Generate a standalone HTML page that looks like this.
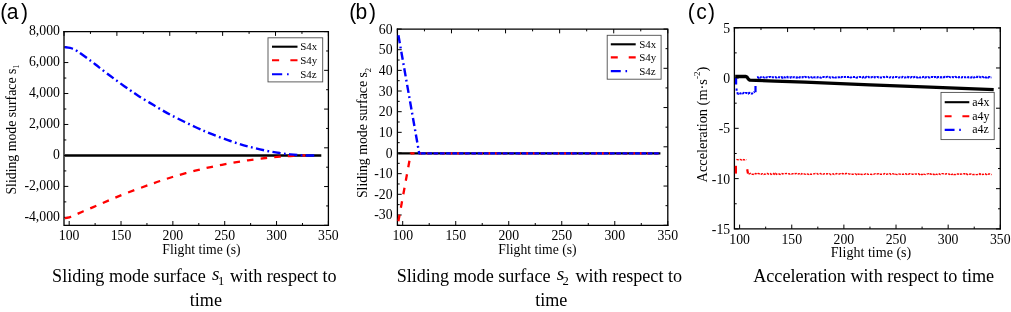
<!DOCTYPE html>
<html lang="en">
<head>
<meta charset="utf-8">
<title>Sliding mode surfaces and acceleration</title>
<style>html,body{margin:0;padding:0;background:#fff}svg{display:block}</style>
</head>
<body>
<svg width="1011" height="312" viewBox="0 0 1011 312" style="will-change:transform" font-family='"Liberation Serif", "Times New Roman", Times, serif' fill="#000">
<rect width="1011" height="312" fill="#fff"/>
<path d="M69.18 225.3 V221 M121.03 225.3 V221 M172.87 225.3 V221 M224.71 225.3 V221 M276.56 225.3 V221 M328.4 225.3 V221 M95.11 225.3 V223 M146.95 225.3 V223 M198.79 225.3 V223 M250.64 225.3 V223 M302.48 225.3 V223 M64 31.6 H68.3 M64 62.56 H68.3 M64 93.52 H68.3 M64 124.48 H68.3 M64 155.44 H68.3 M64 186.4 H68.3 M64 217.36 H68.3 M64 47.08 H66.3 M64 78.04 H66.3 M64 109 H66.3 M64 139.96 H66.3 M64 170.92 H66.3 M64 201.88 H66.3" stroke="#000" stroke-width="1" fill="none"/>
<path d="M64 31.6 V35.9 M328.4 31.6 H324.1 M90.44 31.6 V33.9 M328.4 50.97 H326.1 M116.88 31.6 V35.9 M328.4 70.34 H324.1 M143.32 31.6 V33.9 M328.4 89.71 H326.1 M169.76 31.6 V35.9 M328.4 109.08 H324.1 M196.2 31.6 V33.9 M328.4 128.45 H326.1 M222.64 31.6 V35.9 M328.4 147.82 H324.1 M249.08 31.6 V33.9 M328.4 167.19 H326.1 M275.52 31.6 V35.9 M328.4 186.56 H324.1 M301.96 31.6 V33.9 M328.4 205.93 H326.1 M328.4 31.6 V35.9 M328.4 225.3 H324.1" stroke="#000" stroke-width="1" fill="none"/>
<path d="M64 31.6 H328.4 V225.3" stroke="#000" stroke-width="1.3" fill="none" stroke-linecap="square"/>
<path d="M64 31.6 V225.3 H328.4" stroke="#000" stroke-width="1.3" fill="none" stroke-linecap="square"/>
<text transform="translate(69.18 240) scale(0.905 1)" font-size="15.2" text-anchor="middle">100</text>
<text transform="translate(121.03 240) scale(0.905 1)" font-size="15.2" text-anchor="middle">150</text>
<text transform="translate(172.87 240) scale(0.905 1)" font-size="15.2" text-anchor="middle">200</text>
<text transform="translate(224.71 240) scale(0.905 1)" font-size="15.2" text-anchor="middle">250</text>
<text transform="translate(276.56 240) scale(0.905 1)" font-size="15.2" text-anchor="middle">300</text>
<text transform="translate(328.4 240) scale(0.905 1)" font-size="15.2" text-anchor="middle">350</text>
<text transform="translate(59.9 35.4) scale(0.905 1)" font-size="15.2" text-anchor="end">8,000</text>
<text transform="translate(59.9 66.36) scale(0.905 1)" font-size="15.2" text-anchor="end">6,000</text>
<text transform="translate(59.9 97.32) scale(0.905 1)" font-size="15.2" text-anchor="end">4,000</text>
<text transform="translate(59.9 128.28) scale(0.905 1)" font-size="15.2" text-anchor="end">2,000</text>
<text transform="translate(59.9 159.24) scale(0.905 1)" font-size="15.2" text-anchor="end">0</text>
<text transform="translate(59.9 190.2) scale(0.905 1)" font-size="15.2" text-anchor="end">-2,000</text>
<text transform="translate(59.9 221.16) scale(0.905 1)" font-size="15.2" text-anchor="end">-4,000</text>
<path d="M64.8 155.5 H321.3" stroke="#000" stroke-width="2.4" fill="none"/>
<path d="M64.8 218.2 C65.33 218.12 66.97 217.95 68 217.7 C69.03 217.45 69.67 217.22 71 216.7 C72.33 216.18 73.93 215.52 76 214.6 C78.07 213.68 80.1 212.63 83.4 211.2 C86.7 209.77 91.43 207.85 95.8 206 C100.17 204.15 104.32 202.32 109.6 200.1 C114.88 197.88 120.62 195.35 127.5 192.7 C134.38 190.05 145.48 186.15 150.9 184.2 C156.32 182.25 155.87 182.37 160 181 C164.13 179.63 169.83 177.72 175.7 176 C181.57 174.28 189.15 172.23 195.2 170.7 C201.25 169.17 206.13 168.05 212 166.8 C217.87 165.55 224.4 164.28 230.4 163.2 C236.4 162.12 242.13 161.17 248 160.3 C253.87 159.43 260.27 158.6 265.6 158 C270.93 157.4 275.93 157.03 280 156.7 C284.07 156.37 286.67 156.2 290 156 C293.33 155.8 297.42 155.58 300 155.5 C302.58 155.42 304.58 155.5 305.5 155.5" stroke="#f00" stroke-width="2.3" fill="none" stroke-dasharray="6.6 7.1"/>
<path d="M64.8 47.1 C65.67 47.23 68.47 47.55 70 47.9 C71.53 48.25 72.83 48.7 74 49.2 C75.17 49.7 75.88 50.18 77 50.9 C78.12 51.62 78.38 51.82 80.7 53.5 C83.02 55.18 87.83 58.68 90.9 61 C93.97 63.32 95.9 64.93 99.1 67.4 C102.3 69.87 106.75 73.28 110.1 75.8 C113.45 78.32 115.85 80.08 119.2 82.5 C122.55 84.92 126.98 88.07 130.2 90.3 C133.42 92.53 135.28 93.85 138.5 95.9 C141.72 97.95 145.92 100.43 149.5 102.6 C153.08 104.77 156.25 106.73 160 108.9 C163.75 111.07 166.13 112.58 172 115.6 C177.87 118.62 188.53 123.9 195.2 127 C201.87 130.1 206.13 131.87 212 134.2 C217.87 136.53 224.4 138.97 230.4 141 C236.4 143.03 242.13 144.8 248 146.4 C253.87 148 260.27 149.48 265.6 150.6 C270.93 151.72 275.88 152.47 280 153.1 C284.12 153.73 286.83 154.03 290.3 154.4 C293.77 154.77 297.85 155.12 300.8 155.3 C303.75 155.48 305.6 155.47 308 155.5 C310.4 155.53 314 155.5 315.2 155.5" stroke="#00f" stroke-width="2.4" fill="none" stroke-dasharray="8.2 3.4 1.8 3.4"/>
<rect x="268" y="37.8" width="54.7" height="44.1" fill="#fff" stroke="#4d4d4d" stroke-width="0.9"/>
<path d="M272 46.7 H297.5" stroke="#000" stroke-width="2.1"/>
<path d="M272 60.3 h7.14 M290.36 60.3 h7.14" stroke="#f00" stroke-width="2.1"/>
<path d="M272 74.2 h10.2 M287.05 74.2 h1.6" stroke="#00f" stroke-width="2.1"/>
<text transform="translate(300.2 50) scale(0.960 1)" font-size="11.4">S4x</text>
<text transform="translate(300.2 64) scale(0.960 1)" font-size="11.4">S4y</text>
<text transform="translate(300.2 77.7) scale(0.960 1)" font-size="11.4">S4z</text>
<text transform="translate(201.5 253.8) scale(0.925 1)" font-size="14.8" text-anchor="middle">Flight time (s)</text>
<text transform="translate(15.7 129.5) rotate(-90) scale(0.945 1)" font-size="14.6" text-anchor="middle">Sliding mode surface s<tspan font-size="9" dy="3.2">1</tspan></text>
<text transform="translate(0.2 18.9) scale(0.94 1)" font-size="22.4" font-family='"Liberation Sans", Arial, Helvetica, sans-serif'>(<tspan x="7.02">a</tspan><tspan x="22.02">)</tspan></text>
<path d="M402.7 225.3 V221 M455.72 225.3 V221 M508.74 225.3 V221 M561.76 225.3 V221 M614.78 225.3 V221 M667.8 225.3 V221 M429.21 225.3 V223 M482.23 225.3 V223 M535.25 225.3 V223 M588.27 225.3 V223 M641.29 225.3 V223 M397.4 29.05 H401.7 M397.4 49.71 H401.7 M397.4 70.37 H401.7 M397.4 91.02 H401.7 M397.4 111.68 H401.7 M397.4 132.34 H401.7 M397.4 153 H401.7 M397.4 173.66 H401.7 M397.4 194.31 H401.7 M397.4 214.97 H401.7 M397.4 39.38 H399.7 M397.4 60.04 H399.7 M397.4 80.69 H399.7 M397.4 101.35 H399.7 M397.4 122.01 H399.7 M397.4 142.67 H399.7 M397.4 163.33 H399.7 M397.4 183.98 H399.7 M397.4 204.64 H399.7 M397.4 225.3 H399.7" stroke="#000" stroke-width="1" fill="none"/>
<path d="M397.4 29.05 V33.35 M667.8 29.05 H663.5 M424.44 29.05 V31.35 M667.8 48.67 H665.5 M451.48 29.05 V33.35 M667.8 68.3 H663.5 M478.52 29.05 V31.35 M667.8 87.92 H665.5 M505.56 29.05 V33.35 M667.8 107.55 H663.5 M532.6 29.05 V31.35 M667.8 127.17 H665.5 M559.64 29.05 V33.35 M667.8 146.8 H663.5 M586.68 29.05 V31.35 M667.8 166.43 H665.5 M613.72 29.05 V33.35 M667.8 186.05 H663.5 M640.76 29.05 V31.35 M667.8 205.68 H665.5 M667.8 29.05 V33.35 M667.8 225.3 H663.5" stroke="#000" stroke-width="1" fill="none"/>
<path d="M397.4 29.05 H667.8 V225.3" stroke="#000" stroke-width="1.3" fill="none" stroke-linecap="square"/>
<path d="M397.4 29.05 V225.3 H667.8" stroke="#000" stroke-width="1.3" fill="none" stroke-linecap="square"/>
<text transform="translate(402.7 240) scale(0.905 1)" font-size="15.2" text-anchor="middle">100</text>
<text transform="translate(455.72 240) scale(0.905 1)" font-size="15.2" text-anchor="middle">150</text>
<text transform="translate(508.74 240) scale(0.905 1)" font-size="15.2" text-anchor="middle">200</text>
<text transform="translate(561.76 240) scale(0.905 1)" font-size="15.2" text-anchor="middle">250</text>
<text transform="translate(614.78 240) scale(0.905 1)" font-size="15.2" text-anchor="middle">300</text>
<text transform="translate(667.8 240) scale(0.905 1)" font-size="15.2" text-anchor="middle">350</text>
<text transform="translate(392.6 33.55) scale(0.905 1)" font-size="15.2" text-anchor="end">60</text>
<text transform="translate(392.6 54.21) scale(0.905 1)" font-size="15.2" text-anchor="end">50</text>
<text transform="translate(392.6 74.87) scale(0.905 1)" font-size="15.2" text-anchor="end">40</text>
<text transform="translate(392.6 95.52) scale(0.905 1)" font-size="15.2" text-anchor="end">30</text>
<text transform="translate(392.6 116.18) scale(0.905 1)" font-size="15.2" text-anchor="end">20</text>
<text transform="translate(392.6 136.84) scale(0.905 1)" font-size="15.2" text-anchor="end">10</text>
<text transform="translate(392.6 157.5) scale(0.905 1)" font-size="15.2" text-anchor="end">0</text>
<text transform="translate(392.6 178.16) scale(0.905 1)" font-size="15.2" text-anchor="end">-10</text>
<text transform="translate(392.6 198.81) scale(0.905 1)" font-size="15.2" text-anchor="end">-20</text>
<text transform="translate(392.6 219.47) scale(0.905 1)" font-size="15.2" text-anchor="end">-30</text>
<path d="M398.2 153.4 H660.4" stroke="#000" stroke-width="2.4" fill="none"/>
<path d="M411.5 153.4 H660.4" stroke="#f00" stroke-width="2.2" fill="none" stroke-dasharray="3 4.6"/>
<path d="M398.4 221.2 L410.8 153.4 H412" stroke="#f00" stroke-width="2.3" fill="none" stroke-dasharray="6.6 7.1" stroke-linejoin="round"/>
<path d="M421 153.4 H660.4" stroke="#00f" stroke-width="2.2" fill="none" stroke-dasharray="4.6 1.7"/>
<path d="M398.4 35.2 L419.2 153.4 H420.5" stroke="#00f" stroke-width="2.4" fill="none" stroke-dasharray="8.2 3.4 1.8 3.4" stroke-linejoin="round"/>
<rect x="607.2" y="35.3" width="53.9" height="43.9" fill="#fff" stroke="#4d4d4d" stroke-width="0.9"/>
<path d="M610.8 44.3 H635.7" stroke="#000" stroke-width="2.1"/>
<path d="M610.8 57.4 h6.97 M628.73 57.4 h6.97" stroke="#f00" stroke-width="2.1"/>
<path d="M610.8 71.1 h9.96 M625.49 71.1 h1.6" stroke="#00f" stroke-width="2.1"/>
<text transform="translate(639.2 47.6) scale(0.960 1)" font-size="11.4">S4x</text>
<text transform="translate(639.2 61.2) scale(0.960 1)" font-size="11.4">S4y</text>
<text transform="translate(639.2 74.9) scale(0.960 1)" font-size="11.4">S4z</text>
<text transform="translate(537.5 253.9) scale(0.925 1)" font-size="14.8" text-anchor="middle">Flight time (s)</text>
<text transform="translate(367.4 133) rotate(-90) scale(0.945 1)" font-size="14.6" text-anchor="middle">Sliding mode surface s<tspan font-size="9" dy="3.2">2</tspan></text>
<text transform="translate(349.2 19.4) scale(0.94 1)" font-size="22.4" font-family='"Liberation Sans", Arial, Helvetica, sans-serif'>(<tspan x="6.81">b</tspan><tspan x="20.96">)</tspan></text>
<path d="M739.61 228.9 V224.6 M791.75 228.9 V224.6 M843.89 228.9 V224.6 M896.03 228.9 V224.6 M948.16 228.9 V224.6 M1000.3 228.9 V224.6 M765.68 228.9 V226.6 M817.82 228.9 V226.6 M869.96 228.9 V226.6 M922.09 228.9 V226.6 M974.23 228.9 V226.6 M734.4 27.75 H738.7 M734.4 78.04 H738.7 M734.4 128.32 H738.7 M734.4 178.61 H738.7 M734.4 228.9 H738.7 M734.4 52.89 H736.7 M734.4 103.18 H736.7 M734.4 153.47 H736.7 M734.4 203.76 H736.7" stroke="#000" stroke-width="1" fill="none"/>
<path d="M734.4 27.75 V32.05 M1000.3 27.75 H996 M760.99 27.75 V30.05 M1000.3 47.87 H998 M787.58 27.75 V32.05 M1000.3 67.98 H996 M814.17 27.75 V30.05 M1000.3 88.09 H998 M840.76 27.75 V32.05 M1000.3 108.21 H996 M867.35 27.75 V30.05 M1000.3 128.32 H998 M893.94 27.75 V32.05 M1000.3 148.44 H996 M920.53 27.75 V30.05 M1000.3 168.56 H998 M947.12 27.75 V32.05 M1000.3 188.67 H996 M973.71 27.75 V30.05 M1000.3 208.79 H998 M1000.3 27.75 V32.05 M1000.3 228.9 H996" stroke="#000" stroke-width="1" fill="none"/>
<path d="M734.4 27.75 H1000.3 V228.9" stroke="#000" stroke-width="1.3" fill="none" stroke-linecap="square"/>
<path d="M734.4 27.75 V228.9 H1000.3" stroke="#000" stroke-width="1.3" fill="none" stroke-linecap="square"/>
<text transform="translate(739.61 243.8) scale(0.905 1)" font-size="15.2" text-anchor="middle">100</text>
<text transform="translate(791.75 243.8) scale(0.905 1)" font-size="15.2" text-anchor="middle">150</text>
<text transform="translate(843.89 243.8) scale(0.905 1)" font-size="15.2" text-anchor="middle">200</text>
<text transform="translate(896.03 243.8) scale(0.905 1)" font-size="15.2" text-anchor="middle">250</text>
<text transform="translate(948.16 243.8) scale(0.905 1)" font-size="15.2" text-anchor="middle">300</text>
<text transform="translate(1000.3 243.8) scale(0.905 1)" font-size="15.2" text-anchor="middle">350</text>
<text transform="translate(730.2 32.65) scale(0.905 1)" font-size="15.2" text-anchor="end">5</text>
<text transform="translate(730.2 82.94) scale(0.905 1)" font-size="15.2" text-anchor="end">0</text>
<text transform="translate(730.2 133.22) scale(0.905 1)" font-size="15.2" text-anchor="end">-5</text>
<text transform="translate(730.2 183.51) scale(0.905 1)" font-size="15.2" text-anchor="end">-10</text>
<text transform="translate(730.2 233.8) scale(0.905 1)" font-size="15.2" text-anchor="end">-15</text>
<path d="M736.1 78 V84.6 M735.6 89.6 H737.6" stroke="#00f" stroke-width="2.2" fill="none"/>
<path d="M736.6 93.41 L737.5 93.19 L738.4 93.72 L739.3 93.06 L740.2 93.55 L741.1 93.34 L742 92.98 L742.9 93.45 L743.8 92.91 L744.7 93.32 L745.6 92.9 L746.5 92.9 L747.4 93.25 L748.3 93.67 L749.2 92.87 L750.1 92.96 L751 93.38 L751.9 93.71 L753.6 92.6 L754.6 91.8" stroke="#00f" stroke-width="2.0" fill="none" stroke-dasharray="2.3 0.9"/>
<path d="M755.5 92.2 V86" stroke="#00f" stroke-width="2.2" fill="none"/>
<path d="M757 77.36 L757.8 77.22 L758.6 77.68 L759.4 76.94 L760.2 77.58 L761 77.13 L761.8 77.01 L762.6 76.99 L763.4 77.14 L764.2 77.55 L765 77.04 L765.8 77.36 L766.6 77.4 L767.4 77.19 L768.2 77.33 L769 76.94 L769.8 76.94 L770.6 77.05 L771.4 77.43 L772.2 77.23 L773 77.14 L773.8 77.35 L774.6 77.25 L775.4 77.12 L776.2 77.52 L777 77.44 L777.8 77.08 L778.6 77.34 L779.4 77.3 L780.2 77.58 L781 77.46 L781.8 77.11 L782.6 77.66 L783.4 76.97 L784.2 77.21 L785 77.48 L785.8 77 L786.6 77.27 L787.4 76.91 L788.2 77.41 L789 77.48 L789.8 77.33 L790.6 77.57 L791.4 77.12 L792.2 77.43 L793 77.34 L793.8 77.33 L794.6 77.23 L795.4 77.54 L796.2 77.62 L797 77.25 L797.8 77.4 L798.6 76.91 L799.4 77.43 L800.2 77.38 L801 77.66 L801.8 77.52 L802.6 77.09 L803.4 77.17 L804.2 77.39 L805 76.88 L805.8 77.23 L806.6 76.99 L807.4 76.95 L808.2 76.9 L809 77.47 L809.8 76.96 L810.6 77.05 L811.4 77.17 L812.2 77.55 L813 76.92 L813.8 77.21 L814.6 77.29 L815.4 77.56 L816.2 77.51 L817 77.54 L817.8 77.07 L818.6 77.18 L819.4 77.13 L820.2 77.55 L821 77.61 L821.8 76.97 L822.6 76.99 L823.4 77.03 L824.2 77.03 L825 77.23 L825.8 77.31 L826.6 77.05 L827.4 76.84 L828.2 77.17 L829 77.13 L829.8 77.29 L830.6 77.6 L831.4 77.39 L832.2 77.25 L833 77.33 L833.8 77.38 L834.6 76.88 L835.4 77.55 L836.2 77.46 L837 77.53 L837.8 77.47 L838.6 77.14 L839.4 77.15 L840.2 76.91 L841 77.34 L841.8 76.88 L842.6 76.88 L843.4 76.99 L844.2 76.96 L845 77.1 L845.8 76.87 L846.6 76.82 L847.4 76.94 L848.2 76.9 L849 77.11 L849.8 76.84 L850.6 77.52 L851.4 77.31 L852.2 76.94 L853 77.02 L853.8 77.1 L854.6 77.11 L855.4 76.91 L856.2 77.49 L857 77.61 L857.8 77.19 L858.6 77.2 L859.4 76.88 L860.2 76.89 L861 77.09 L861.8 77.02 L862.6 77.47 L863.4 76.94 L864.2 76.83 L865 77.57 L865.8 77.23 L866.6 76.92 L867.4 77.24 L868.2 76.83 L869 77.23 L869.8 77.59 L870.6 77.49 L871.4 77.36 L872.2 77.01 L873 77.09 L873.8 76.93 L874.6 77.42 L875.4 77.23 L876.2 77.42 L877 77.06 L877.8 76.98 L878.6 77.45 L879.4 77.58 L880.2 77.48 L881 77.44 L881.8 77.45 L882.6 77.39 L883.4 76.97 L884.2 77.21 L885 77.08 L885.8 76.81 L886.6 76.81 L887.4 77.01 L888.2 77 L889 77.34 L889.8 77.55 L890.6 77.14 L891.4 77.54 L892.2 77.58 L893 77.55 L893.8 77.08 L894.6 76.96 L895.4 76.96 L896.2 76.94 L897 76.94 L897.8 77.28 L898.6 77.5 L899.4 77.45 L900.2 77.16 L901 77.3 L901.8 77.42 L902.6 76.84 L903.4 77.3 L904.2 77.5 L905 77.4 L905.8 77.37 L906.6 77.16 L907.4 76.91 L908.2 77.4 L909 77.04 L909.8 77.41 L910.6 77.55 L911.4 77.09 L912.2 77.09 L913 77.52 L913.8 77.35 L914.6 76.9 L915.4 76.87 L916.2 76.89 L917 77.49 L917.8 77.41 L918.6 76.88 L919.4 77.42 L920.2 77.55 L921 77.29 L921.8 77.04 L922.6 77.2 L923.4 76.86 L924.2 76.77 L925 77.53 L925.8 77.28 L926.6 77.18 L927.4 77.5 L928.2 77.1 L929 77.45 L929.8 77.41 L930.6 76.92 L931.4 76.95 L932.2 76.99 L933 76.94 L933.8 77.22 L934.6 76.96 L935.4 77.08 L936.2 76.85 L937 77.47 L937.8 77.03 L938.6 77.11 L939.4 77.21 L940.2 77.47 L941 77.08 L941.8 77.48 L942.6 77.14 L943.4 77.17 L944.2 77.16 L945 76.75 L945.8 77.09 L946.6 76.89 L947.4 76.74 L948.2 77.38 L949 76.87 L949.8 77.11 L950.6 77.32 L951.4 77.18 L952.2 76.99 L953 77.15 L953.8 77.18 L954.6 77.36 L955.4 76.82 L956.2 77.18 L957 76.93 L957.8 76.95 L958.6 77.35 L959.4 77.13 L960.2 77.18 L961 77.33 L961.8 77.46 L962.6 77.08 L963.4 77.21 L964.2 77.13 L965 77.13 L965.8 77.28 L966.6 77.08 L967.4 77.15 L968.2 77.1 L969 77.47 L969.8 77.28 L970.6 77.42 L971.4 77.47 L972.2 76.92 L973 77.16 L973.8 77.47 L974.6 77.39 L975.4 76.82 L976.2 76.81 L977 77.07 L977.8 76.77 L978.6 76.9 L979.4 76.77 L980.2 77.25 L981 77.34 L981.8 77.43 L982.6 76.83 L983.4 77.28 L984.2 77.23 L985 76.82 L985.8 77.41 L986.6 77.48 L987.4 76.88 L988.2 77.47 L989 77.02 L989.8 77.09 L990.6 77.49 L991.4 77.37" stroke="#00f" stroke-width="2.0" fill="none" stroke-dasharray="2.3 0.9"/>
<path d="M735.9 165.8 V173.6" stroke="#f00" stroke-width="2.2" fill="none"/>
<path d="M736.4 159.36 L737.3 159.65 L738.2 159.75 L739.1 159.59 L740 159.47 L740.9 159.61 L741.8 160.03 L742.7 159.35 L743.6 159.9 L744.5 159.8 L745.4 159.4 L746.3 159.73" stroke="#f00" stroke-width="1.4" fill="none" stroke-dasharray="2.4 1"/>
<path d="M747.2 169.2 L748 173.6" stroke="#f00" stroke-width="2.2" fill="none"/>
<path d="M748.6 174.02 L749.5 173.91 L750.4 173.47 L751.3 174.39 L752.2 174.19 L753.1 174.38 L754 173.51 L754.9 173.67 L755.8 173.45 L756.7 174.19 L757.6 173.68 L758.5 173.54 L759.4 173.84 L760.3 174.33 L761.2 174.23 L762.1 173.68 L763 173.57 L763.9 174.34 L764.8 173.99 L765.7 174.12 L766.6 173.51 L767.5 173.48 L768.4 174.11 L769.3 173.85 L770.2 173.5 L771.1 174.37 L772 174.06 L772.9 174.23 L773.8 173.51 L774.7 174.29 L775.6 173.5 L776.5 174.3 L777.4 173.89 L778.3 173.78 L779.2 173.99 L780.1 174.37 L781 173.71 L781.9 173.57 L782.8 173.97 L783.7 173.68 L784.6 173.55 L785.5 173.61 L786.4 173.5 L787.3 173.65 L788.2 173.76 L789.1 173.75 L790 174.21 L790.9 173.74 L791.8 173.95 L792.7 173.63 L793.6 173.8 L794.5 173.47 L795.4 173.71 L796.3 173.47 L797.2 174.19 L798.1 174.01 L799 173.65 L799.9 173.94 L800.8 174.4 L801.7 173.57 L802.6 174.29 L803.5 173.9 L804.4 173.96 L805.3 174.3 L806.2 173.86 L807.1 173.98 L808 174.16 L808.9 174.46 L809.8 173.82 L810.7 174.31 L811.6 174.18 L812.5 174.11 L813.4 173.88 L814.3 173.83 L815.2 173.54 L816.1 173.61 L817 173.56 L817.9 174.23 L818.8 173.74 L819.7 173.65 L820.6 173.57 L821.5 174.33 L822.4 174.36 L823.3 174.16 L824.2 173.78 L825.1 173.74 L826 173.79 L826.9 173.96 L827.8 173.66 L828.7 173.94 L829.6 173.76 L830.5 174.46 L831.4 174.47 L832.3 174.05 L833.2 173.75 L834.1 174.47 L835 173.82 L835.9 173.86 L836.8 173.51 L837.7 173.89 L838.6 173.99 L839.5 174.01 L840.4 173.71 L841.3 174.02 L842.2 173.52 L843.1 173.78 L844 173.61 L844.9 173.92 L845.8 173.56 L846.7 173.54 L847.6 173.83 L848.5 173.76 L849.4 174.11 L850.3 174.05 L851.2 174.28 L852.1 174.19 L853 174.24 L853.9 174.41 L854.8 173.92 L855.7 173.86 L856.6 174.52 L857.5 173.68 L858.4 174.26 L859.3 174.18 L860.2 173.58 L861.1 174.37 L862 174.43 L862.9 174.17 L863.8 174.28 L864.7 174.36 L865.6 173.68 L866.5 174.07 L867.4 174.05 L868.3 174.38 L869.2 174.35 L870.1 174.38 L871 174.13 L871.9 174.44 L872.8 174.24 L873.7 174.25 L874.6 173.79 L875.5 173.59 L876.4 173.69 L877.3 173.92 L878.2 173.66 L879.1 174.4 L880 174.12 L880.9 174.19 L881.8 174.19 L882.7 174.25 L883.6 174.06 L884.5 173.57 L885.4 174.37 L886.3 174.32 L887.2 174.07 L888.1 174.11 L889 174.23 L889.9 173.64 L890.8 174.31 L891.7 173.83 L892.6 173.65 L893.5 173.84 L894.4 174.31 L895.3 173.79 L896.2 174.32 L897.1 174.56 L898 174.08 L898.9 173.97 L899.8 174.07 L900.7 174.27 L901.6 174.36 L902.5 174.21 L903.4 174.23 L904.3 173.67 L905.2 173.74 L906.1 173.85 L907 174.34 L907.9 173.9 L908.8 174.17 L909.7 173.61 L910.6 173.66 L911.5 173.87 L912.4 174.27 L913.3 174.3 L914.2 174.28 L915.1 173.9 L916 174.12 L916.9 174.07 L917.8 174.07 L918.7 173.73 L919.6 174.5 L920.5 173.81 L921.4 174.59 L922.3 174.55 L923.2 173.63 L924.1 174.08 L925 174.44 L925.9 174.59 L926.8 174.07 L927.7 173.89 L928.6 173.83 L929.5 174.57 L930.4 173.83 L931.3 174.21 L932.2 173.77 L933.1 174.15 L934 174.58 L934.9 173.76 L935.8 174.45 L936.7 174.14 L937.6 174.52 L938.5 174.34 L939.4 173.87 L940.3 174.53 L941.2 174.12 L942.1 173.66 L943 173.64 L943.9 174.13 L944.8 174.09 L945.7 173.94 L946.6 173.78 L947.5 173.99 L948.4 173.96 L949.3 174.49 L950.2 173.65 L951.1 174.4 L952 174.49 L952.9 173.77 L953.8 174.58 L954.7 174.37 L955.6 174.56 L956.5 173.95 L957.4 174.03 L958.3 174.05 L959.2 174.66 L960.1 174.25 L961 174.02 L961.9 174.09 L962.8 173.94 L963.7 173.71 L964.6 173.77 L965.5 174.5 L966.4 173.95 L967.3 174.61 L968.2 173.92 L969.1 173.94 L970 174.18 L970.9 173.86 L971.8 174.05 L972.7 174.63 L973.6 174.56 L974.5 174.49 L975.4 174.31 L976.3 174.59 L977.2 174.62 L978.1 174.23 L979 174.4 L979.9 173.73 L980.8 174.42 L981.7 174.14 L982.6 174.44 L983.5 174.33 L984.4 173.98 L985.3 173.74 L986.2 174.62 L987.1 173.82 L988 174.17 L988.9 174.04 L989.8 174 L990.7 174.44 L991.6 174.68" stroke="#f00" stroke-width="1.4" fill="none" stroke-dasharray="2.4 1"/>
<path d="M735.2 76.5 L745.8 76.5 L747.2 77.3 L748.4 79.2 L749.7 80.1 L756 80.3 L775 81.2 L805 82.2 L870 84.8 L930 87.2 L993.7 89.6" stroke="#000" stroke-width="3.3" fill="none" stroke-linejoin="round"/>
<rect x="941" y="92.4" width="53.2" height="47.2" fill="#fff" stroke="#4d4d4d" stroke-width="0.9"/>
<path d="M944.7 102.2 H969.3" stroke="#000" stroke-width="2.1"/>
<path d="M944.7 116.3 h6.89 M962.41 116.3 h6.89" stroke="#f00" stroke-width="2.1"/>
<path d="M944.7 129.9 h9.84 M959.21 129.9 h1.6" stroke="#00f" stroke-width="2.1"/>
<text transform="translate(972.2 106) scale(0.960 1)" font-size="12.4">a4x</text>
<text transform="translate(972.2 119.6) scale(0.960 1)" font-size="12.4">a4y</text>
<text transform="translate(972.2 133.4) scale(0.960 1)" font-size="12.4">a4z</text>
<text transform="translate(871 257.3) scale(1.020 1)" font-size="13.8" text-anchor="middle">Flight time (s)</text>
<text transform="translate(707 124.6) rotate(-90) scale(1.020 1)" font-size="14.1" text-anchor="middle">Acceleration (m·s<tspan font-size="8.8" dy="-6.8">-2</tspan><tspan dy="6.8">)</tspan></text>
<text transform="translate(687.8 19.4) scale(0.94 1)" font-size="22.4" font-family='"Liberation Sans", Arial, Helvetica, sans-serif'>(<tspan x="8.94">c</tspan><tspan x="21.38">)</tspan></text>
<text x="52.1" y="282" font-size="18.1">Sliding mode surface <tspan x="212.1" y="279.9" font-size="19" font-style="italic">s</tspan><tspan x="218" y="284.7" font-size="12.6">1 </tspan><tspan x="230.1" y="282">with respect to </tspan><tspan x="189.8" y="306.3">time</tspan></text>
<text x="396.7" y="282" font-size="18.1">Sliding mode surface <tspan x="556.7" y="279.9" font-size="19" font-style="italic">s</tspan><tspan x="562.6" y="284.7" font-size="12.6">2 </tspan><tspan x="575.5" y="282">with respect to </tspan><tspan x="535.2" y="306.3">time</tspan></text>
<text x="753.2" y="281.9" font-size="18.17">Acceleration with respect to time</text>
</svg>
</body>
</html>
